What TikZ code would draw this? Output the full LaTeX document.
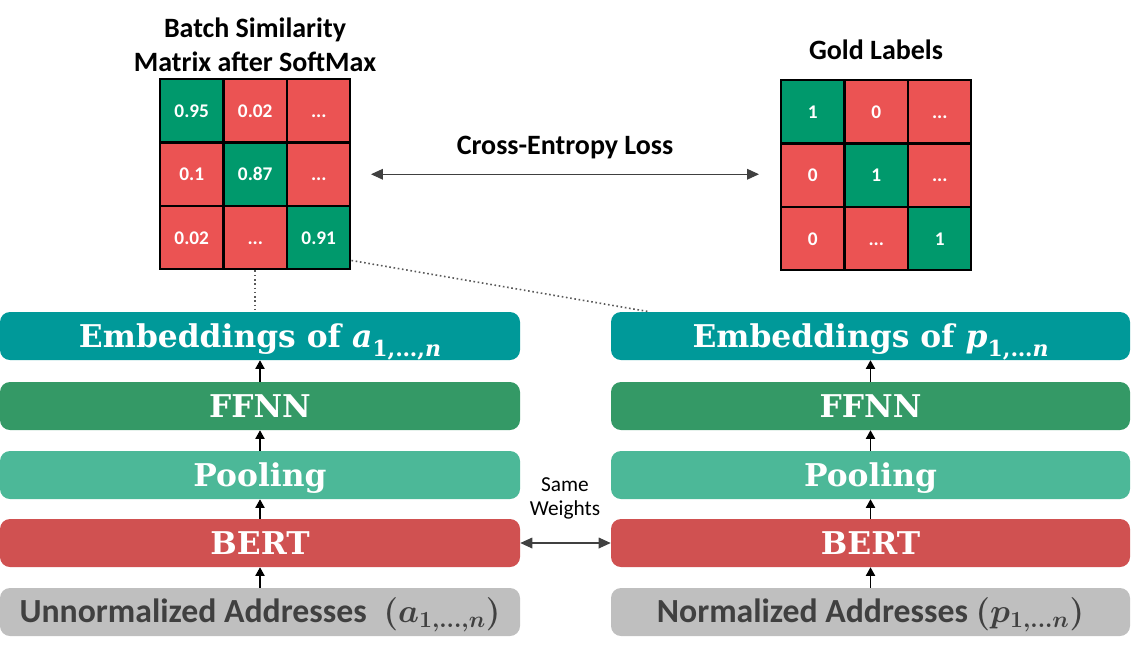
\documentclass[tikz,border=0pt]{standalone}
\usepackage{amsmath}
\usepackage{fontspec}
\newfontfamily\calib{Carlito}
\newfontfamily\djs{DejaVu Serif}
\usetikzlibrary{arrows.meta}
\newcommand\emsub[2]{\textit{#1}\raisebox{-0.28em}{\fontsize{16.5}{17}\selectfont #2}}
\definecolor{embc}{RGB}{0,153,153}
\definecolor{ffnnc}{RGB}{52,153,102}
\definecolor{poolc}{RGB}{76,184,152}
\definecolor{bertc}{RGB}{208,81,81}
\definecolor{addrc}{RGB}{191,191,191}
\definecolor{addrt}{RGB}{64,64,64}
\definecolor{cellg}{RGB}{0,153,108}
\definecolor{cellr}{RGB}{235,83,83}
\tikzset{
  box/.style={rounded corners=7.5pt, minimum height=36pt, inner sep=0pt, text=white,
    text height=17pt, text depth=0pt,
    font=\djs\fontsize{23.5}{28}\selectfont\bfseries},
  lbox/.style={box, minimum width=390pt},
  rbox/.style={box, minimum width=389.25pt},
  addr/.style={rounded corners=7.5pt, minimum height=36pt, inner sep=0pt, fill=addrc, text=addrt,
    text height=16pt, text depth=0pt,
    font=\calib\fontsize{25.3}{28}\selectfont\bfseries},
  cell/.style={draw=black, line width=1.5pt, minimum width=47.6pt, minimum height=47.6pt,
    inner sep=0pt, text height=9.5pt, text depth=0pt, text=white,
    font=\calib\fontsize{14.5}{16}\selectfont\bfseries},
  gc/.style={cell, fill=cellg},
  rc/.style={cell, fill=cellr},
  ttl/.style={align=center, font=\calib\fontsize{21}{25.5}\selectfont\bfseries},
  arr/.style={-{Triangle[length=6.5pt,width=7pt]}, line width=0.9pt},
  dbl/.style={{Triangle[length=9pt,width=8pt]}-{Triangle[length=9pt,width=8pt]}, line width=0.9pt, draw=black!75},
  dots/.style={dotted, line width=1.2pt, draw=black!65}
}
\begin{document}
\begin{tikzpicture}[x=0.75pt, y=-0.75pt]
\useasboundingbox (0,0) rectangle (1131,654);
% left stack
\node[lbox, fill=embc] (embL) at (260,336) {Embeddings of \emsub{a}{1,…,\textit{n}}};
\node[lbox, fill=ffnnc] (ffL) at (260,406) {FFNN};
\node[lbox, fill=poolc] (poolL) at (260,475) {Pooling};
\node[lbox, fill=bertc] (bertL) at (260,543) {BERT};
\node[addr, minimum width=390pt] (addrL) at (260,612) {Unnormalized Addresses\enspace{\fontsize{26}{28}\selectfont\boldmath$\left(a_{1,\ldots,n}\right)$}};
% right stack
\node[rbox, fill=embc] (embR) at (870.5,336) {Embeddings of \emsub{p}{1,…\textit{n}}};
\node[rbox, fill=ffnnc] (ffR) at (870.5,406) {FFNN};
\node[rbox, fill=poolc] (poolR) at (870.5,475) {Pooling};
\node[rbox, fill=bertc] (bertR) at (870.5,543) {BERT};
\node[addr, minimum width=389.25pt] (addrR) at (870.5,612) {Normalized Addresses {\fontsize{26}{28}\selectfont\boldmath$\left(p_{1,\ldots n}\right)$}};
% arrows in stacks
\draw[arr] (addrL.north) -- (bertL.south);
\draw[arr] (bertL.north) -- (poolL.south);
\draw[arr] (poolL.north) -- (ffL.south);
\draw[arr] (ffL.north) -- (embL.south);
\draw[arr] (addrR.north) -- (bertR.south);
\draw[arr] (bertR.north) -- (poolR.south);
\draw[arr] (poolR.north) -- (ffR.south);
\draw[arr] (ffR.north) -- (embR.south);
% similarity matrix
\node[gc] (L11) at (191.75,110.75) {0.95};
\node[rc] (L12) at (255.25,110.75) {0.02};
\node[rc] (L13) at (318.75,110.75) {...};
\node[rc] (L21) at (191.75,174.25) {0.1};
\node[gc] (L22) at (255.25,174.25) {0.87};
\node[rc] (L23) at (318.75,174.25) {...};
\node[rc] (L31) at (191.75,237.75) {0.02};
\node[rc] (L32) at (255.25,237.75) {...};
\node[gc] (L33) at (318.75,237.75) {0.91};
% gold labels
\node[gc] (G11) at (812.75,111.75) {1};
\node[rc] (G12) at (876.25,111.75) {0};
\node[rc] (G13) at (939.75,111.75) {...};
\node[rc] (G21) at (812.75,175.25) {0};
\node[gc] (G22) at (876.25,175.25) {1};
\node[rc] (G23) at (939.75,175.25) {...};
\node[rc] (G31) at (812.75,238.75) {0};
\node[rc] (G32) at (876.25,238.75) {...};
\node[gc] (G33) at (939.75,238.75) {1};
% titles
\node[ttl] (t1) at (255,45) {Batch Similarity\\Matrix after SoftMax};
\node[ttl] (t2) at (876,50) {Gold Labels};
\node[ttl] (t3) at (565,148) {Cross-Entropy Loss};
\node[align=center, font=\calib\fontsize{16}{18}\selectfont] (sw) at (565,498) {Same\\Weights};
% connectors
\draw[dbl] ([xshift=14.6pt]L23.east) -- ([xshift=-15.75pt]G21.west |- L23.east);
\draw[dbl] (bertL.east) -- (bertR.west);
\draw[dots] (L32.south) -- (L32.south |- embL.north);
\draw[dots] ([yshift=7.5pt]L33.south east) -- ([xshift=29pt]embR.north west);
\end{tikzpicture}
\end{document}
